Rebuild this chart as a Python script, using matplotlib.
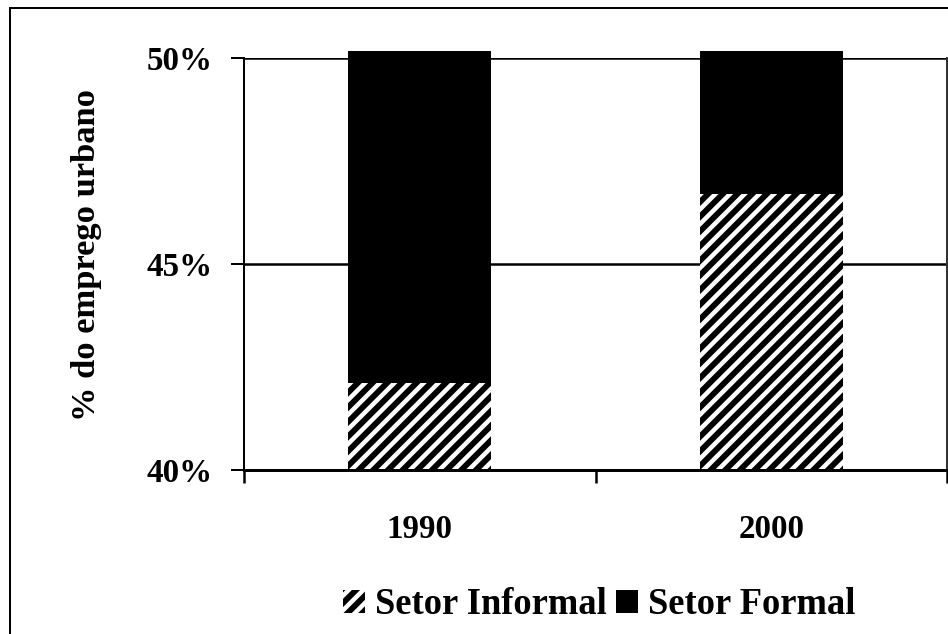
import matplotlib
matplotlib.use("Agg")
import matplotlib.pyplot as plt
from matplotlib.patches import Patch
from matplotlib.lines import Line2D
from matplotlib.transforms import Bbox, TransformedBbox

# ---- data ----
categories = ["1990", "2000"]
informal = [42.1, 46.7]           # % Setor Informal
formal = [57.9, 53.3]             # % Setor Formal (stacked on top)
yticks = [40, 45, 50]
ytick_labels = ["40%", "45%", "50%"]
ylabel = "% do emprego urbano"
legend_labels = ["Setor Informal", "Setor Formal"]

DPI = 88
W, H = 948, 634
def pt(px):
    return px * 72.0 / DPI

plt.rcParams["font.family"] = ["Liberation Serif", "DejaVu Serif"]
plt.rcParams["font.weight"] = "bold"
plt.rcParams["hatch.linewidth"] = pt(4.5)
FS = pt(33)

fig = plt.figure(figsize=(W / DPI, H / DPI), dpi=DPI)
fig.patch.set_facecolor("white")
ax = fig.add_axes([244 / W, 1 - 470 / H, (947 - 244) / W, (470 - 57.5) / H])

x = list(range(len(categories)))
bw = 0.406
clip = TransformedBbox(Bbox([[0, 0], [1, 1.015]]), ax.transAxes)

b1 = ax.bar(x, [v - 40 for v in informal], bottom=40, width=bw, color="black",
            edgecolor="white", hatch="//", linewidth=0, zorder=3)
b2 = ax.bar(x, formal, bottom=informal, width=bw, color="black",
            edgecolor="black", linewidth=0, zorder=3)
for r in list(b1) + list(b2):
    r.set_clip_box(clip)

ax.set_ylim(40, 50)
ax.set_xlim(-0.5, len(categories) - 0.5)

ax.set_yticks(yticks)
ax.set_yticklabels(ytick_labels, fontsize=FS, fontweight="bold")
ax.tick_params(axis="y", direction="out", length=pt(13), width=pt(2), pad=pt(18))

ax.set_xticks([i - 0.5 for i in range(len(categories) + 1)])
ax.set_xticklabels([])
ax.tick_params(axis="x", which="major", direction="out", length=pt(13), width=pt(2.5))
ax.set_xticks(x, minor=True)
ax.set_xticklabels(categories, minor=True, fontsize=FS, fontweight="bold")
ax.tick_params(axis="x", which="minor", length=0, pad=pt(44))

for yv in yticks[1:]:
    ax.axhline(yv, color="black", linewidth=pt(2.5), zorder=1)

ax.spines["top"].set_visible(False)
ax.spines["left"].set_linewidth(pt(2))
ax.spines["bottom"].set_linewidth(pt(3))
ax.spines["right"].set_linewidth(pt(2))
ax.spines["right"].set_color("#333333")
ax.spines["bottom"].set_zorder(4)

fig.text(87 / W, 1 - 255 / H, ylabel, rotation=90, ha="center", va="center",
         fontsize=pt(34.5), fontweight="bold")

handles = [Patch(facecolor="black", edgecolor="white", hatch="//", linewidth=0),
           Patch(facecolor="black", edgecolor="black", linewidth=0)]
LFS = pt(36.5)
leg = fig.legend(handles, legend_labels, loc="center", bbox_to_anchor=(599 / W, 1 - 605 / H),
                 ncol=2, frameon=False, prop={"size": LFS, "weight": "bold"},
                 handlelength=0.6, handleheight=0.6, handletextpad=0.27,
                 columnspacing=0.27)

# chart area border (cropped at right/bottom)
fig.add_artist(Line2D([10 / W, 10 / W], [0, 1 - 8 / H], transform=fig.transFigure,
                      color="black", linewidth=pt(2)))
fig.add_artist(Line2D([10 / W, 1], [1 - 8 / H, 1 - 8 / H], transform=fig.transFigure,
                      color="black", linewidth=pt(2)))

fig.savefig("out.png", dpi=DPI)
